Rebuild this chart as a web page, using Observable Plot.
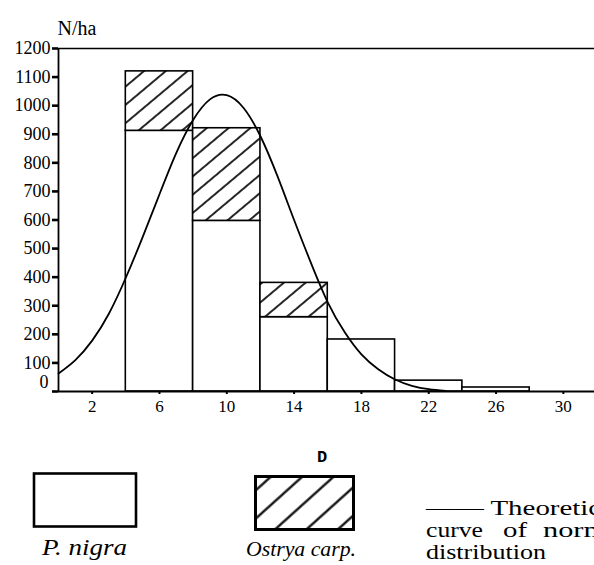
<!DOCTYPE html>
<html>
<head>
<meta charset="utf-8">
<script src="https://cdn.jsdelivr.net/npm/d3@7"></script>
<script src="https://cdn.jsdelivr.net/npm/@observablehq/plot@0.6"></script>
<style>
  html, body { margin: 0; padding: 0; background: #fff; }
  #wrap { position: relative; width: 594px; height: 565px; overflow: hidden; background: #fff; }
  #wrap svg, #wrap svg text { font-family: "Liberation Serif", "DejaVu Serif", serif !important; }
  #legend { position: absolute; left: 0; top: 0; pointer-events: none; }
  #legend text.mono { font-family: "Liberation Mono", "DejaVu Sans Mono", monospace !important; }
</style>
</head>
<body>
<div id="wrap"></div>
<script>
// ---- data ----
const classStart = [4, 8, 12, 16, 20, 24];
const classEnd   = [8, 12, 16, 20, 24, 28];
const pNigra     = [912, 597, 260, 182, 38, 14];   // N/ha, P. nigra
const ostrya     = [208, 324, 120, 0, 0, 0];       // N/ha, Ostrya carp. (stacked above P. nigra)

const curveX = [0, 1, 2, 3, 4, 5, 6, 7, 8, 9, 10, 11, 12, 13, 14, 15, 16, 17, 18, 19, 20, 21, 22, 23];
const curveY = [63, 110, 178, 273, 398, 540, 690, 835, 950, 1022, 1037, 992, 893, 755, 600, 450, 312, 208, 130, 78, 42, 20, 8, 2];

const yTicks = [0, 100, 200, 300, 400, 500, 600, 700, 800, 900, 1000, 1100, 1200];
const xTicks = [2, 6, 10, 14, 18, 22, 26, 30];

const yLabel = "N/ha";
const xLabel = "D";
const speciesNames = ["P. nigra", "Ostrya carp."];
const curveLegend = ["—— Theoretical", "curve", "of", "normal", "distribution"];

// ---- tables ----
const bars = classStart.map((s, i) => ({
  x1: s, x2: classEnd[i], nigra: pNigra[i], total: pNigra[i] + ostrya[i], ostrya: ostrya[i]
}));
const curve = curveX.map((x, i) => ({x, y: curveY[i]}));

const plot = Plot.plot({
  width: 594,
  height: 420,
  marginLeft: 58,
  marginRight: 0,
  marginTop: 48,
  marginBottom: 29,
  style: {background: "white", color: "black", overflow: "visible"},
  x: {domain: [0, 31.85]},
  y: {domain: [0, 1200]},
  marks: [
    Plot.rectY(bars, {x1: "x1", x2: "x2", y1: 0, y2: "nigra", fill: "white", stroke: "black", strokeWidth: 1.6}),
    Plot.rectY(bars.filter(d => d.ostrya > 0), {x1: "x1", x2: "x2", y1: "nigra", y2: "total", fill: "url(#hatch)", stroke: "black", strokeWidth: 1.6}),
    Plot.line(curve, {x: "x", y: "y", curve: "natural", stroke: "black", strokeWidth: 1.8}),
    Plot.ruleY([0], {stroke: "black", strokeWidth: 1.8}),
    Plot.ruleY([1200], {stroke: "black", strokeWidth: 1.6}),
    Plot.ruleX([0], {y1: 0, y2: 1200, stroke: "black", strokeWidth: 1.8}),
    Plot.axisY(yTicks, {
      tickSize: 6, tickPadding: 2, strokeWidth: 2.6, fontSize: 18, label: null,
      tickFormat: d => d === 0 ? "" : String(d), style: {letterSpacing: "1.4px"}
    }),
    Plot.text(yTicks.filter(d => d === 0), {
      y: d => d, text: d => String(d), frameAnchor: "left", textAnchor: "end",
      dx: -10, dy: -9, fontSize: 18
    }),
    Plot.axisX(xTicks, {
      tickSize: 3, tickPadding: 5, strokeWidth: 2, fontSize: 17, label: null,
      style: {letterSpacing: "1px"}
    }),
    Plot.text([yLabel], {frameAnchor: "top-left", textAnchor: "start", dx: -1, dy: -28, fontSize: 20, style: {letterSpacing: "1px"}})
  ]
});

// hatch pattern for the stacked Ostrya part
const ns = "http://www.w3.org/2000/svg";
const defs = document.createElementNS(ns, "defs");
defs.innerHTML = `<pattern id="hatch" patternUnits="userSpaceOnUse" width="14" height="14" patternTransform="rotate(50)">
  <rect width="14" height="14" fill="white"/>
  <line x1="7" y1="-1" x2="7" y2="15" stroke="black" stroke-width="1.7"/>
</pattern>`;
plot.insertBefore(defs, plot.firstChild);

const wrap = document.getElementById("wrap");
wrap.appendChild(plot);

// ---- legend below the chart ----
const lg = document.createElementNS(ns, "svg");
lg.setAttribute("id", "legend");
lg.setAttribute("width", 594);
lg.setAttribute("height", 565);
lg.innerHTML = `
<defs>
  <pattern id="hatchL" patternUnits="userSpaceOnUse" width="21" height="21" patternTransform="rotate(48)">
    <rect width="21" height="21" fill="white"/>
    <line x1="10.5" y1="-1" x2="10.5" y2="22" stroke="black" stroke-width="2.2"/>
  </pattern>
</defs>
<text class="mono" x="322" y="462" text-anchor="middle" font-weight="bold" font-size="17">${xLabel}</text>
<rect x="34" y="473.5" width="102" height="53" fill="white" stroke="black" stroke-width="2.6"/>
<rect x="255.5" y="476.5" width="98" height="53" fill="url(#hatchL)" stroke="black" stroke-width="3"/>
<text x="42" y="555" font-style="italic" font-size="23" textLength="85" lengthAdjust="spacingAndGlyphs">${speciesNames[0]}</text>
<text x="246" y="556" font-style="italic" font-size="22" textLength="110" lengthAdjust="spacingAndGlyphs">${speciesNames[1]}</text>
<text x="426" y="515" font-size="20" textLength="196" lengthAdjust="spacingAndGlyphs">${curveLegend[0]}</text>
<text x="426" y="537" font-size="20" textLength="57" lengthAdjust="spacingAndGlyphs">${curveLegend[1]}</text>
<text x="503" y="537" font-size="20" textLength="24" lengthAdjust="spacingAndGlyphs">${curveLegend[2]}</text>
<text x="543" y="537" font-size="20" textLength="86" lengthAdjust="spacingAndGlyphs">${curveLegend[3]}</text>
<text x="426" y="559" font-size="20" textLength="120" lengthAdjust="spacingAndGlyphs">${curveLegend[4]}</text>
`;
wrap.appendChild(lg);
</script>
</body>
</html>
